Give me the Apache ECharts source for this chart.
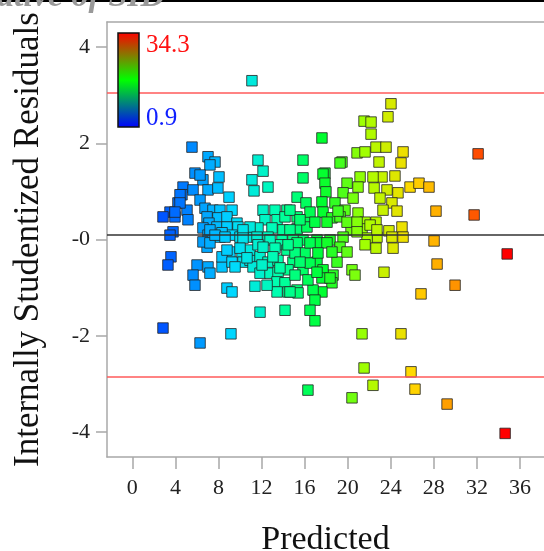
<!DOCTYPE html>
<html><head><meta charset="utf-8">
<script src="https://cdn.jsdelivr.net/npm/echarts@6/dist/echarts.min.js"></script>
<style>html,body{margin:0;padding:0;background:#fff}#c{width:544px;height:551px}</style>
</head><body><div id="c"></div>
<script>
const xTicks = [0, 4, 8, 12, 16, 20, 24, 28, 32, 36];
const yTicks = [-4, -2, 0, 2, 4];
const limitLines = [3.05, -2.86];
const centerLine = [0.094];
const colorRange = [0.9, 34.3];
const colorLabels = ['34.3', '0.9'];
const xName = 'Predicted';
const yName = 'Internally Studentized Residuals';
const titleFragment = 'ative of SID';

// [predicted, internally studentized residual]
const outlierPoints = [
  [11.11,3.30],[2.85,-1.84],[6.29,-2.15],[9.16,-1.96],[16.31,-3.13],[20.40,-3.29],[21.33,-1.96],
  [21.52,-2.67],[22.35,-3.03],[24.95,-1.96],[25.88,-2.75],[26.25,-3.11],[29.23,-3.42],[34.62,-4.03],
  [34.81,-0.30],[32.11,1.78],[31.74,0.51],[28.20,0.59],[28.02,-0.03],[28.30,-0.51],[29.97,-0.95],
  [26.81,-1.13],[23.37,-0.68],[25.79,1.09],[26.62,1.17],[27.55,1.09]
];
const upperRightPoints = [
  [17.61,2.11],[21.52,2.46],[22.17,2.44],[24.02,2.82],[23.74,2.55],[22.17,2.19],[22.63,1.92],[23.56,1.92],
  [25.14,1.82],[20.87,1.80],[21.61,1.82],[22.91,1.61],[24.95,1.59],[19.47,1.61],[15.85,1.65],[11.67,1.65],
  [12.14,1.42],[15.85,1.28],[17.89,1.38],[21.15,1.30],[23.19,1.30],[24.39,1.32],[22.35,1.30],[19.29,1.59],
  [17.71,1.36],[19.94,1.17],[17.89,1.17],[20.96,1.09],[22.45,1.07],[23.65,1.03],[24.67,0.97],[15.30,0.88],
  [17.98,0.99],[19.57,0.97],[23.0,0.86],[20.50,0.86],[16.13,0.76],[17.61,0.78],[18.82,0.76],[24.11,0.76],
  [23.28,0.61],[24.58,0.59],[14.64,0.61],[16.50,0.57],[17.71,0.57],[19.75,0.61],[20.96,0.55],[18.54,0.45],
  [19.29,0.47],[16.96,0.36],[15.57,0.41],[21.61,0.36],[22.63,0.36],[20.31,0.20],[21.33,0.22],[22.08,0.30],
  [23.83,0.18],[25.04,0.26],[25.14,0.05],[24.11,0.05],[22.72,0.05],[21.80,0.03],[19.57,0.05],[18.36,-0.01],
  [17.15,-0.01],[15.85,-0.01],[14.64,0.20],[14.92,-0.01],
  [19.10,0.59],[18.08,0.36],[19.94,0.36],[20.87,0.36],[20.87,0.16],[22.72,0.20]
];
const lowerRightPoints = [
  [21.61,-0.11],[22.63,-0.18],[24.21,-0.18],[19.01,-0.47],[20.40,-0.63],[20.68,-0.74],[18.64,-0.74],
  [18.54,-0.90],[17.61,-1.09],[16.78,-1.05],[16.96,-1.26],[16.50,-1.47],[16.96,-1.69],[15.39,-1.11],
  [14.64,-1.09],[15.30,-0.07],[16.04,-0.28],[15.11,-0.28],[17.24,-0.07],[18.08,-0.07],[17.15,-0.47],
  [17.71,-0.63],[15.85,-0.63],[15.11,-0.74],[16.31,-0.84],[17.61,-0.80],[18.36,-0.80],[19.29,-0.16],
  [16.50,-0.49],[15.57,-0.47],
  [14.46,-0.11],[16.50,-0.07],[17.24,-0.28],[18.54,-0.26],[19.94,-0.26],[17.15,-0.68]
];
const upperLeftPoints = [
  [5.54,1.92],[7.03,1.72],[7.68,1.61],[7.21,1.55],[5.82,1.38],[6.56,1.24],[8.05,1.30],[4.71,1.09],
  [5.64,1.03],[7.03,1.03],[7.95,1.07],[4.61,0.93],[6.29,0.82],[8.98,0.88],[4.24,0.76],[5.08,0.61],
  [3.50,0.57],[2.85,0.47],[3.96,0.47],[5.17,0.41],[6.75,0.65],[7.49,0.61],[8.14,0.61],[9.26,0.61],
  [6.94,0.47],[7.95,0.45],[8.79,0.47],[9.72,0.34],[7.12,0.34],[7.86,0.26],[8.79,0.26],[9.81,0.26],
  [6.56,0.24],[3.78,0.16],[3.50,0.09],[7.03,0.09],[8.14,0.05],[9.26,0.09],[10.0,0.05],[10.93,0.05],
  [11.11,1.24],[11.30,1.01],[12.60,1.09],[12.14,0.61],[13.25,0.61],[14.36,0.61],[12.32,0.41],[13.44,0.41],
  [14.18,0.47],[15.30,0.47],[16.22,0.41],[11.67,0.24],[12.97,0.24],[13.99,0.20],[15.30,0.22],[16.22,0.26],
  [10.93,0.26],[10.28,0.20],[11.58,0.05],[12.60,0.05],[13.90,-0.01],
  [6.29,1.34],[4.43,0.93],[4.43,0.76],[3.96,0.57],[7.21,0.20],[8.33,0.14],[10.28,0.03]
];
const lowerLeftPoints = [
  [3.59,-0.36],[3.31,-0.53],[6.01,-0.53],[5.64,-0.74],[5.82,-0.95],[7.03,-0.57],[7.21,-0.70],[8.33,-0.57],
  [8.79,-1.01],[9.26,-1.09],[9.07,-0.26],[8.33,-0.36],[9.26,-0.47],[6.94,-0.16],[6.56,-0.05],[7.21,-0.07],
  [7.68,0.09],[8.61,0.05],[10.19,-0.26],[10.28,-0.47],[10.93,-0.43],[10.93,-0.22],[11.67,-0.11],[11.86,-0.36],
  [11.21,-0.57],[11.86,-0.70],[12.79,-0.70],[12.60,-0.47],[13.53,-0.43],[13.71,-0.11],[12.79,-0.01],[14.36,-0.22],
  [15.76,-0.32],[14.92,-0.47],[14.46,-0.63],[13.53,-0.68],[13.44,-0.88],[14.18,-0.90],[15.30,-1.05],[14.46,-1.09],
  [13.44,-1.09],[12.51,-0.95],[11.39,-0.97],[11.86,-1.51],[14.18,-1.47],
  [8.79,-0.22],[10.0,-0.18],[12.14,-0.16],[13.25,-0.18],[10.65,-0.38],[13.06,-0.36],[9.54,-0.57],[12.05,-0.53],[13.71,-0.59]
];

const allPoints = [].concat(upperLeftPoints, lowerLeftPoints, upperRightPoints, lowerRightPoints, outlierPoints);

const serif = '"Liberation Serif", "DejaVu Serif", serif';
const axisGray = '#a8a8a8';
const chart = echarts.init(document.getElementById('c'), null, {renderer: 'canvas'});

chart.setOption({
  animation: false,
  backgroundColor: '#fff',
  grid: {left: 107, right: 0, top: 22, bottom: 94, containLabel: false, outerBoundsMode: 'none'},
  visualMap: {
    type: 'continuous', show: false, dimension: 0, seriesIndex: 0,
    min: colorRange[0], max: colorRange[1],
    inRange: {color: ['#0030ff','#0080ff','#00d8ff','#00ffb0','#00ff30','#a8ff00','#ffd800','#ff9000','#ff0000']}
  },
  xAxis: [{
    type: 'value', min: -2.35, max: 38.23, position: 'bottom',
    name: xName, nameLocation: 'middle', nameGap: 66,
    nameTextStyle: {fontFamily: serif, fontSize: 34, color: '#111'},
    axisLine: {show: true, onZero: false, lineStyle: {color: axisGray, width: 1.5}},
    axisTick: {show: true, length: 12, customValues: xTicks, lineStyle: {color: axisGray, width: 1.5}},
    axisLabel: {customValues: xTicks, margin: 20, fontFamily: serif, fontSize: 22, color: '#222'},
    splitLine: {show: false}
  }, {
    type: 'value', min: -2.35, max: 38.23, position: 'top',
    axisLine: {show: true, onZero: false, lineStyle: {color: axisGray, width: 1.5}},
    axisTick: {show: false}, axisLabel: {show: false}, splitLine: {show: false}
  }],
  yAxis: {
    type: 'value', min: -4.52, max: 4.52,
    name: yName, nameLocation: 'middle', nameGap: 61, nameRotate: 90,
    nameTextStyle: {fontFamily: serif, fontSize: 35, color: '#111'},
    axisLine: {show: true, onZero: false, lineStyle: {color: axisGray, width: 1.5}},
    axisTick: {show: true, length: 11, customValues: yTicks, lineStyle: {color: axisGray, width: 1.5}},
    axisLabel: {customValues: yTicks, margin: 17, fontFamily: serif, fontSize: 22, color: '#222',
      formatter: v => (v === 0 ? '-0' : String(v))},
    splitLine: {show: false}
  },
  series: [{
    type: 'scatter',
    data: allPoints,
    symbol: 'rect',
    symbolSize: 10.5,
    itemStyle: {borderColor: 'rgba(35,35,35,0.8)', borderWidth: 1, opacity: 1},
    markLine: {
      silent: true, symbol: 'none', label: {show: false},
      data: [
        {yAxis: limitLines[0], lineStyle: {color: '#ff5a5a', width: 1.5, type: 'solid'}},
        {yAxis: limitLines[1], lineStyle: {color: '#ff5a5a', width: 1.5, type: 'solid'}},
        {yAxis: centerLine[0], lineStyle: {color: '#333', width: 1.5, type: 'solid'}}
      ]
    },
    z: 3
  }],
  graphic: [
    {type: 'rect', left: 0, top: 0, shape: {width: 544, height: 2}, style: {fill: '#000'}, z: 1},
    {type: 'text', x: -3, y: -20, style: {text: titleFragment, font: 'italic bold 34px ' + serif, fill: '#999'}, z: 2},
    {type: 'rect', shape: {x: 118, y: 33, width: 21, height: 94},
      style: {fill: new echarts.graphic.LinearGradient(0, 0, 0, 1, [
        {offset: 0, color: '#ff0000'}, {offset: 0.5, color: '#00ff00'}, {offset: 1, color: '#0000ff'}]),
        stroke: '#111', lineWidth: 1.5}, z: 10},
    {type: 'text', x: 146, y: 45, style: {text: colorLabels[0], font: '25px ' + serif, fill: '#ff1010', verticalAlign: 'middle'}, z: 10},
    {type: 'text', x: 146, y: 118, style: {text: colorLabels[1], font: '25px ' + serif, fill: '#1020ff', verticalAlign: 'middle'}, z: 10}
  ]
});
</script>
</body></html>
